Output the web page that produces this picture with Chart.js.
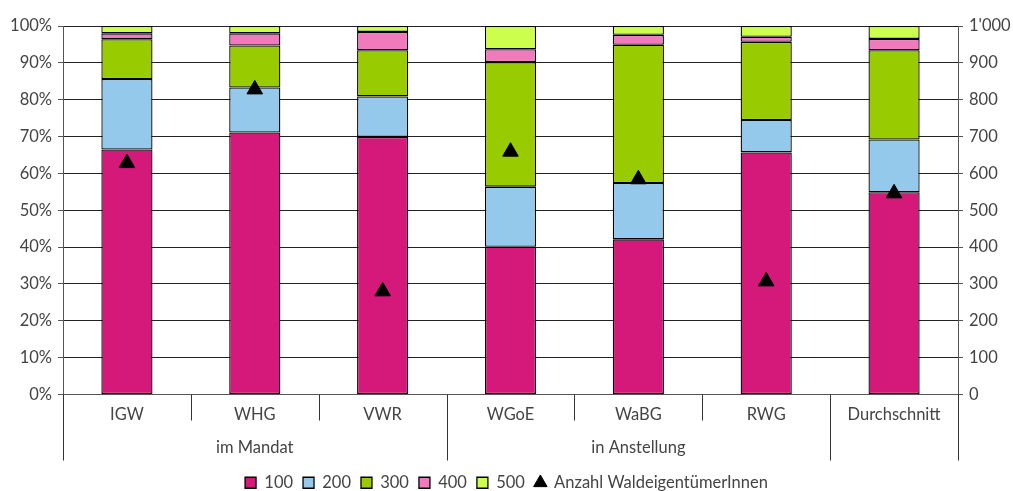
<!DOCTYPE html>
<html>
<head>
<meta charset="utf-8">
<script src="https://cdn.jsdelivr.net/npm/chart.js@4/dist/chart.umd.min.js"></script>
<style>
  body { margin: 0; background: #fff; }
  #wrap { width: 1013px; height: 491px; }
</style>
</head>
<body>
<div id="wrap"><canvas id="chart"></canvas></div>
<script>
var categories = ['IGW', 'WHG', 'VWR', 'WGoE', 'WaBG', 'RWG', 'Durchschnitt']
var groupNames = ['im Mandat', 'in Anstellung', '']
var groupStarts = [0, 3, 6]
var share100 = [66.5, 71.1, 69.9, 40.1, 42.1, 65.7, 54.9]
var share200 = [19.1, 12.2, 11.0, 16.3, 15.3, 8.8, 14.3]
var share300 = [10.8, 11.4, 12.5, 33.8, 37.5, 21.2, 24.2]
var share400 = [1.6, 3.3, 5.0, 3.5, 2.7, 1.4, 3.1]
var share500 = [2.0, 2.0, 1.6, 6.3, 2.4, 2.9, 3.5]
var owners = [628, 828, 280, 659, 584, 307, 546]

var font = { family: 'Lato', size: 16.5 }
var textColor = '#444'

function barSet(label, data, color) {
  return {
    type: 'bar',
    label: label,
    data: data,
    backgroundColor: color,
    borderColor: '#000',
    borderWidth: 1.3,
    borderSkipped: false,
    pointStyle: 'rect',
    yAxisID: 'y',
    order: 1
  }
}

// separators and group labels below the category axis
var groupLines = {
  id: 'groupLines',
  afterDraw: function (chart) {
    var ctx = chart.ctx
    var x = chart.scales.x
    var top = chart.chartArea.bottom
    var half = (x.getPixelForValue(1) - x.getPixelForValue(0)) / 2
    ctx.save()
    ctx.strokeStyle = '#333'
    ctx.lineWidth = 1
    for (var i = 0; i <= categories.length; i++) {
      var px = Math.round(x.getPixelForValue(i) - half) + 0.5
      var isEdge = groupStarts.indexOf(i) >= 0 || i === categories.length
      ctx.beginPath()
      ctx.moveTo(px, top)
      ctx.lineTo(px, top + (isEdge ? 66 : 26))
      ctx.stroke()
    }
    ctx.fillStyle = textColor
    ctx.font = font.size + 'px ' + font.family
    ctx.textAlign = 'center'
    ctx.textBaseline = 'middle'
    for (var g = 0; g < groupNames.length; g++) {
      var from = groupStarts[g]
      var to = g + 1 < groupStarts.length ? groupStarts[g + 1] - 1 : categories.length - 1
      var cx = (x.getPixelForValue(from) + x.getPixelForValue(to)) / 2
      ctx.fillText(groupNames[g], cx, top + 53)
    }
    ctx.restore()
  }
}

var ctx = document.getElementById('chart').getContext('2d')
var myChart = new Chart(ctx, {
  data: {
    labels: categories,
    datasets: [
      barSet('100', share100, '#d5197b'),
      barSet('200', share200, '#95c9eb'),
      barSet('300', share300, '#99cc00'),
      barSet('400', share400, '#f07abb'),
      barSet('500', share500, '#ccff4d'),
      {
        type: 'line',
        label: 'Anzahl WaldeigentümerInnen',
        data: owners,
        showLine: false,
        pointStyle: 'triangle',
        pointRadius: 9,
        pointBackgroundColor: '#000',
        pointBorderColor: '#000',
        backgroundColor: '#000',
        borderColor: '#000',
        yAxisID: 'y2',
        order: 0
      }
    ]
  },
  options: {
    responsive: true,
    maintainAspectRatio: false,
    animation: false,
    layout: { padding: { top: 26, bottom: -10, left: 0, right: 0 } },
    datasets: { bar: { barPercentage: 0.4, categoryPercentage: 1 } },
    plugins: {
      tooltip: { enabled: false },
      legend: {
        position: 'bottom',
        labels: {
          usePointStyle: true,
          boxWidth: 11,
          boxHeight: 11,
          padding: 10,
          color: textColor,
          font: font,
          sort: function (a, b) { return a.datasetIndex - b.datasetIndex }
        }
      }
    },
    scales: {
      x: {
        stacked: true,
        grid: { display: false },
        border: { display: true, color: '#555' },
        ticks: { color: textColor, font: font, padding: 2 },
        afterFit: function (s) { s.height = 70 }
      },
      y: {
        stacked: true,
        position: 'left',
        min: 0,
        max: 100,
        ticks: {
          stepSize: 10,
          color: textColor,
          font: font,
          padding: 6,
          callback: function (v) { return v + '%' }
        },
        grid: { color: '#222', tickLength: 5, tickColor: '#555' },
        border: { color: '#555' },
        afterFit: function (s) { s.width = 63 }
      },
      y2: {
        position: 'right',
        min: 0,
        max: 1000,
        ticks: {
          stepSize: 100,
          color: textColor,
          font: font,
          padding: 6,
          callback: function (v) { return v === 1000 ? "1'000" : v }
        },
        grid: { drawOnChartArea: false, tickLength: 5, tickColor: '#555' },
        border: { color: '#555' },
        afterFit: function (s) { s.width = 55 }
      }
    }
  },
  plugins: [groupLines]
})
</script>
</body>
</html>
